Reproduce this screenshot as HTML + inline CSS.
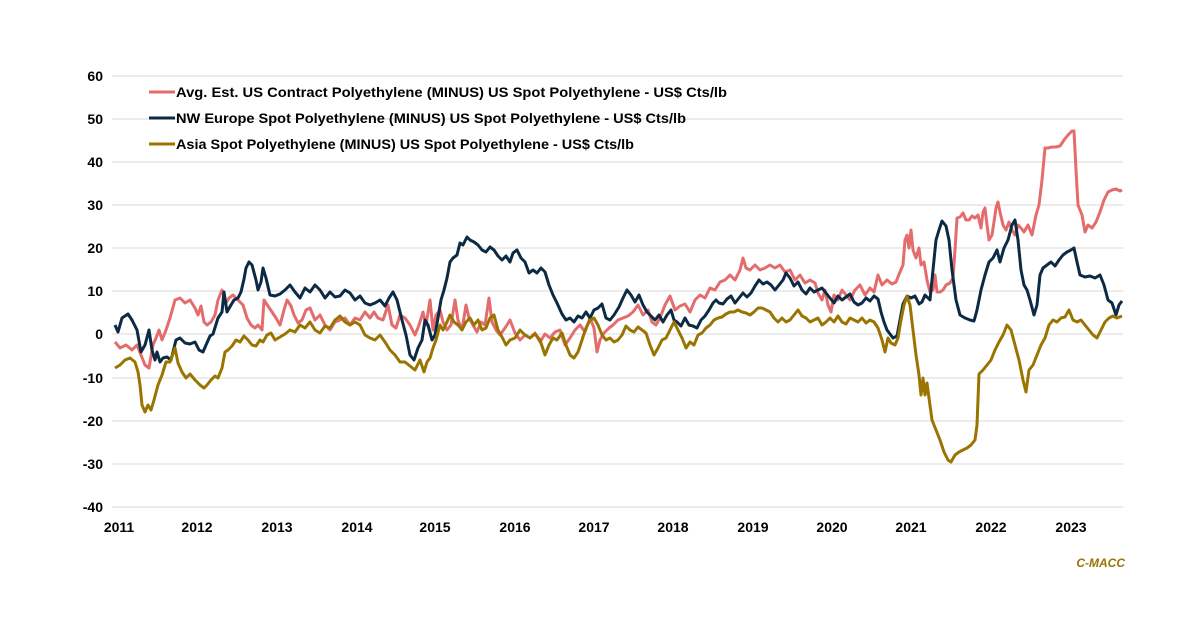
<!DOCTYPE html>
<html><head><meta charset="utf-8"><style>
html,body{margin:0;padding:0;background:#fff;}
svg text{font-family:"Liberation Sans",sans-serif;font-weight:bold;}
</style></head><body>
<svg width="1200" height="627" viewBox="0 0 1200 627" xmlns="http://www.w3.org/2000/svg">
<g stroke="#d9d9d9" stroke-width="1">
<line x1="112" x2="1123" y1="76" y2="76"/><line x1="112" x2="1123" y1="119" y2="119"/>
<line x1="112" x2="1123" y1="162" y2="162"/><line x1="112" x2="1123" y1="205" y2="205"/>
<line x1="112" x2="1123" y1="248" y2="248"/><line x1="112" x2="1123" y1="291" y2="291"/>
<line x1="112" x2="1123" y1="334" y2="334"/><line x1="112" x2="1123" y1="378" y2="378"/>
<line x1="112" x2="1123" y1="421" y2="421"/><line x1="112" x2="1123" y1="464" y2="464"/>
<line x1="112" x2="1123" y1="507" y2="507"/>
</g>
<g font-size="14" fill="#000" text-anchor="end">
<text x="103" y="81">60</text><text x="103" y="124">50</text><text x="103" y="167">40</text>
<text x="103" y="210">30</text><text x="103" y="253">20</text><text x="103" y="296">10</text>
<text x="103" y="339">0</text><text x="103" y="383">-10</text><text x="103" y="426">-20</text>
<text x="103" y="469">-30</text><text x="103" y="512">-40</text>
</g>
<g font-size="14" fill="#000" text-anchor="middle">
<text x="119" y="532">2011</text><text x="197" y="532">2012</text><text x="277" y="532">2013</text>
<text x="357" y="532">2014</text><text x="435" y="532">2015</text><text x="515" y="532">2016</text>
<text x="594" y="532">2017</text><text x="673" y="532">2018</text><text x="753" y="532">2019</text>
<text x="832" y="532">2020</text><text x="911" y="532">2021</text><text x="991" y="532">2022</text>
<text x="1071" y="532">2023</text>
</g>
<g fill="none" stroke-width="3" stroke-linejoin="round">
<polyline stroke="#e46c6c" points="115,342 120,348 126,345 132,350 137,345 141,355 145,365 149,368 153,345 156,338 159,330 162,340 166,330 170,318 175,300 180,298 185,303 190,300 195,308 198,315 201,306 204,322 207,325 211,322 215,315 218,300 222,290 226,303 229,298 233,295 238,300 243,305 247,318 251,325 255,328 258,325 262,330 264,300 268,306 272,312 276,318 280,325 284,310 287,300 291,306 294,315 298,323 302,320 306,310 310,308 315,320 320,315 325,325 330,330 335,322 340,320 345,318 350,325 355,318 360,320 365,312 370,318 374,312 378,318 383,320 388,305 392,325 396,328 400,315 405,318 410,325 415,335 419,325 423,312 426,325 430,300 433,330 436,315 440,310 443,322 447,330 451,325 455,300 458,320 462,330 466,305 469,318 473,325 477,332 481,322 485,325 489,298 492,322 496,330 500,335 505,328 510,320 515,333 520,340 525,335 530,338 535,333 540,342 545,334 550,338 555,332 560,330 565,345 570,338 575,330 580,325 585,332 590,318 594,328 597,352 600,340 604,333 609,328 613,325 618,320 623,318 628,316 633,312 638,305 643,315 648,310 652,322 656,325 660,318 665,305 670,296 675,310 680,306 685,304 690,312 695,300 700,295 705,298 710,288 715,290 720,282 725,280 730,275 735,280 740,270 743,258 746,268 750,270 755,265 760,270 765,268 770,265 775,268 780,265 785,272 790,270 795,280 800,275 805,283 810,280 815,283 818,293 822,300 825,290 828,305 831,312 834,295 838,300 842,290 846,295 850,300 855,290 860,285 865,295 870,288 874,292 878,275 882,285 887,280 892,284 896,282 900,272 903,265 905,240 907,235 909,248 911,230 913,250 916,258 919,248 921,265 924,262 927,280 930,292 933,290 935,275 937,292 940,292 943,290 946,285 950,283 953,278 955,250 957,218 960,217 963,213 966,220 969,220 972,216 975,218 978,215 981,228 983,212 985,208 987,225 989,240 992,235 994,222 996,208 998,202 1000,212 1003,225 1006,230 1009,222 1012,230 1015,235 1018,225 1021,228 1024,232 1028,225 1032,235 1036,215 1039,205 1042,180 1045,148 1048,148 1052,147 1056,147 1060,146 1064,140 1068,135 1072,131 1074,131 1076,170 1078,205 1082,215 1085,232 1088,225 1092,228 1096,222 1100,212 1104,200 1108,192 1112,190 1116,189 1120,191 1122,190"/>
<polyline stroke="#0d2a45" points="115,325 118,332 122,318 128,314 132,320 137,330 141,352 145,345 149,330 152,350 155,360 157,352 160,362 163,358 167,357 171,360 176,340 180,338 185,343 190,344 195,342 199,350 203,352 206,345 210,336 213,334 218,318 222,312 224,292 227,312 231,305 234,300 238,298 241,292 244,279 246,268 249,262 252,265 256,280 258,290 261,282 263,268 266,278 270,295 275,296 280,294 285,290 290,285 295,292 300,298 305,288 310,292 315,285 320,290 325,298 330,292 335,297 340,296 345,290 350,293 355,300 360,296 365,303 370,305 375,303 380,300 385,306 389,298 393,292 397,300 402,320 406,335 410,355 414,360 418,348 422,340 425,320 428,325 432,340 435,335 438,318 441,300 444,290 447,278 450,262 453,258 457,255 460,243 463,245 467,237 470,240 474,242 478,245 482,250 486,252 490,247 494,250 498,256 502,260 506,256 510,262 513,253 517,250 521,258 525,262 529,273 533,270 537,273 541,268 545,272 549,285 553,295 557,303 562,314 566,320 570,318 574,322 578,316 582,318 586,312 590,318 594,310 598,308 602,304 606,318 610,320 614,315 619,307 623,298 627,290 631,295 635,302 639,295 643,305 647,312 651,316 655,320 659,315 663,322 667,315 671,310 674,320 677,322 681,326 685,318 689,325 693,326 697,328 701,320 705,316 709,310 713,303 716,300 719,303 723,304 727,299 731,296 735,303 739,298 743,293 747,297 751,293 755,286 759,280 763,284 767,282 771,285 775,290 779,285 783,280 786,273 790,278 794,286 798,282 802,290 806,294 810,288 814,292 818,290 822,288 826,293 830,298 834,303 838,296 842,300 846,297 850,294 854,302 858,305 862,303 866,298 870,301 874,296 878,299 881,312 884,322 887,330 890,334 893,338 897,336 900,320 903,304 907,296 911,298 915,296 919,304 922,302 925,295 930,300 933,270 936,240 939,230 942,221 946,226 949,240 952,270 956,300 960,315 965,318 970,320 974,321 977,310 981,290 985,275 989,262 993,258 997,250 1000,262 1004,248 1008,240 1012,225 1015,220 1018,240 1021,270 1024,285 1027,290 1030,300 1034,315 1037,305 1040,275 1043,268 1047,265 1051,262 1055,266 1059,260 1063,255 1067,252 1071,250 1074,248 1077,262 1080,275 1085,277 1090,276 1095,278 1100,275 1104,285 1108,300 1112,303 1116,315 1119,305 1122,301"/>
<polyline stroke="#9a7400" points="115,368 120,365 125,360 130,358 135,362 138,372 140,385 142,405 145,412 148,405 151,410 154,400 158,385 162,375 166,362 170,362 175,348 178,363 182,372 186,378 190,374 195,380 200,385 204,388 207,385 211,380 215,376 218,378 222,368 225,352 228,350 232,346 236,340 240,342 244,336 248,340 252,345 256,346 260,340 263,342 267,335 271,333 275,340 280,337 285,334 290,330 295,332 300,325 305,328 310,322 315,330 320,333 325,326 330,328 335,320 340,316 345,322 350,325 355,322 360,325 365,335 370,338 375,340 380,335 385,342 390,350 395,355 400,362 405,362 410,366 415,370 420,360 424,372 427,362 430,358 433,348 436,340 440,325 443,330 447,322 450,315 454,322 458,325 462,330 466,322 470,318 474,325 478,320 482,330 486,328 490,318 494,315 498,330 502,337 506,345 510,340 515,338 520,330 525,335 530,338 535,334 540,340 545,355 549,345 553,338 557,340 562,333 566,345 570,355 574,358 578,352 582,340 586,328 590,320 594,318 598,325 602,335 606,340 610,338 614,342 618,340 622,335 626,326 630,330 634,332 638,327 642,330 646,333 650,345 654,355 658,348 662,340 666,338 670,330 674,322 678,330 682,338 686,348 690,342 694,345 698,335 702,333 706,328 710,325 714,320 718,318 722,317 726,314 730,312 734,312 738,310 742,312 746,313 750,315 754,312 758,308 762,308 766,310 770,312 774,318 778,322 782,318 786,322 790,320 794,315 798,310 802,316 806,318 810,322 814,320 818,318 822,325 826,322 830,318 834,322 838,316 842,322 846,324 850,318 854,320 858,322 862,318 866,323 870,320 874,322 878,328 882,340 885,352 888,338 891,343 895,345 898,338 901,320 904,305 907,296 910,305 913,330 916,355 919,375 921,395 923,378 925,395 927,383 929,398 932,420 936,430 940,440 944,452 948,460 951,462 955,455 959,452 963,450 967,448 971,445 975,440 977,425 979,374 983,370 987,365 991,360 995,350 999,342 1003,335 1007,325 1011,330 1015,345 1019,360 1023,380 1026,392 1029,370 1033,365 1037,355 1041,345 1045,338 1049,325 1053,320 1057,322 1061,318 1065,317 1069,310 1073,320 1077,322 1081,320 1085,325 1089,330 1093,335 1097,338 1101,330 1105,322 1109,318 1113,316 1117,318 1122,316"/>
</g>
<g stroke-width="3">
<line x1="149" x2="175" y1="92" y2="92" stroke="#e46c6c"/>
<line x1="149" x2="175" y1="118" y2="118" stroke="#0d2a45"/>
<line x1="149" x2="175" y1="144" y2="144" stroke="#9a7400"/>
</g>
<g font-size="14" fill="#000">
<text x="176" y="97" textLength="551" lengthAdjust="spacingAndGlyphs">Avg. Est. US Contract Polyethylene (MINUS) US Spot Polyethylene - US$ Cts/lb</text>
<text x="176" y="123" textLength="510" lengthAdjust="spacingAndGlyphs">NW Europe Spot Polyethylene (MINUS) US Spot Polyethylene - US$ Cts/lb</text>
<text x="176" y="149" textLength="458" lengthAdjust="spacingAndGlyphs">Asia Spot Polyethylene (MINUS) US Spot Polyethylene - US$ Cts/lb</text>
</g>
<text x="1125" y="567" font-size="12" font-style="italic" fill="#9a7400" text-anchor="end">C-MACC</text>
</svg>
</body></html>
